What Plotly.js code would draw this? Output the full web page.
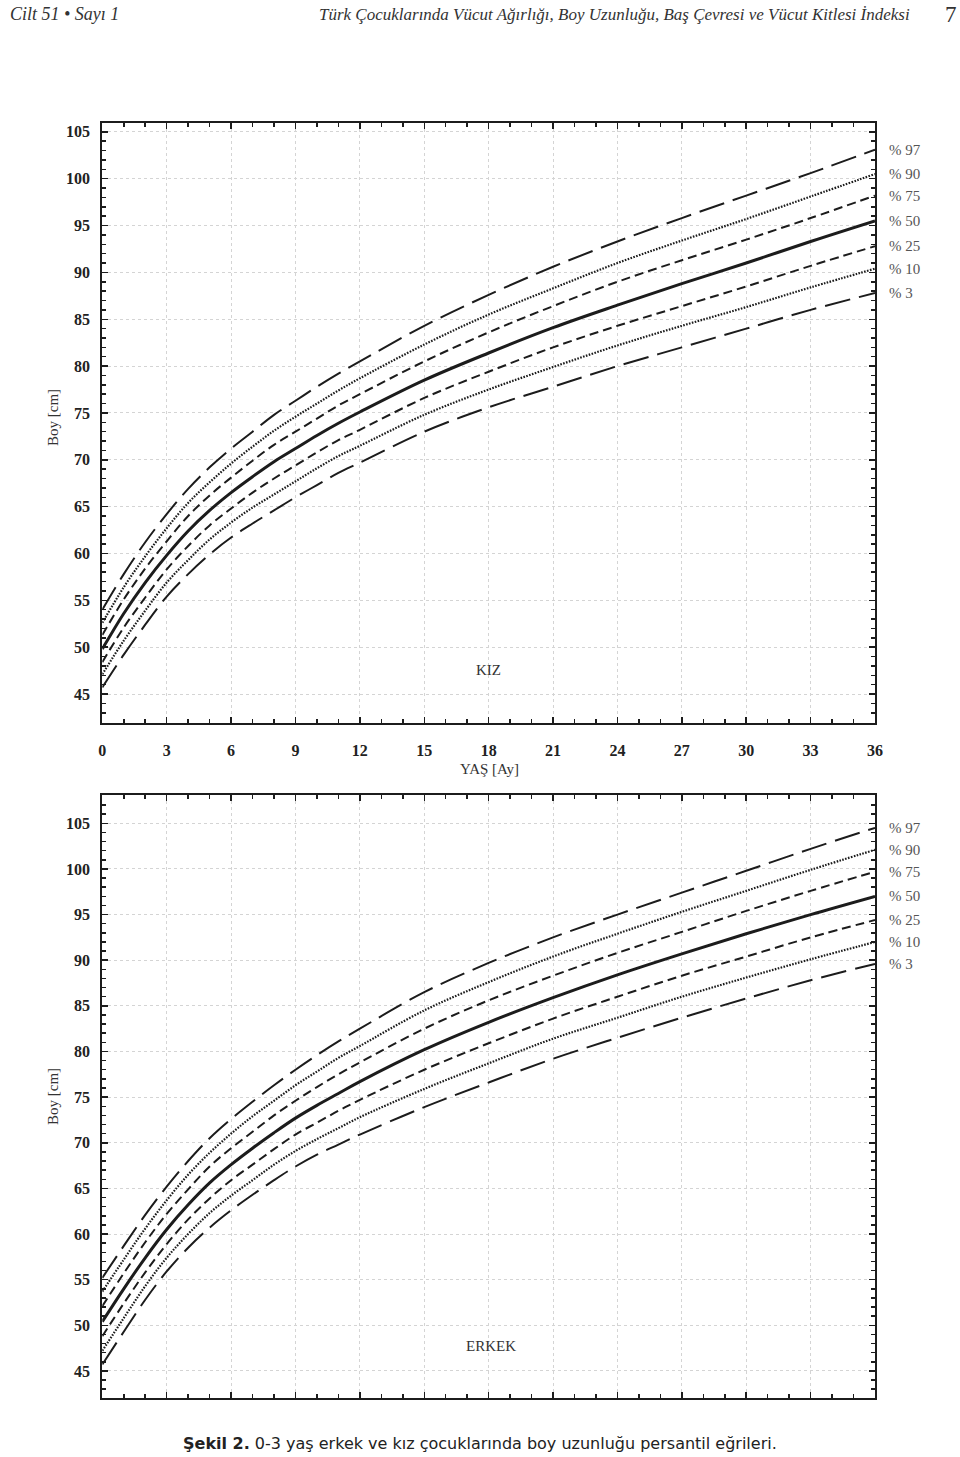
<!DOCTYPE html>
<html><head><meta charset="utf-8">
<script src="https://cdn.plot.ly/plotly-3.0.1.min.js"></script>
<style>body{margin:0;background:#fff}#chart{width:960px;height:1457px}</style>
</head><body><div id="chart"></div>
<script>
const months = [0,1,2,3,4,5,6,7,8,9,10,11,12,15,18,21,24,27,30,33,36];
const percentileLabels = ['% 97','% 90','% 75','% 50','% 25','% 10','% 3'];

// KIZ (girls) length percentiles, cm
const kizP97 = [54.0,57.8,61.2,64.2,66.9,69.2,71.2,73.0,74.8,76.3,77.8,79.2,80.5,84.3,87.6,90.6,93.3,95.8,98.2,100.6,103.1];
const kizP90 = [52.6,56.4,59.7,62.7,65.4,67.6,69.6,71.4,73.1,74.6,76.0,77.4,78.7,82.3,85.5,88.3,91.0,93.4,95.7,98.1,100.5];
const kizP75 = [51.3,55.1,58.4,61.3,64.0,66.2,68.1,69.9,71.6,73.0,74.4,75.8,77.0,80.5,83.6,86.4,89.0,91.3,93.5,95.8,98.2];
const kizP50 = [49.8,53.6,56.9,59.8,62.4,64.6,66.5,68.2,69.8,71.2,72.6,73.9,75.1,78.5,81.4,84.1,86.5,88.8,91.0,93.3,95.5];
const kizP25 = [48.4,52.1,55.3,58.3,60.8,63.0,64.8,66.5,68.0,69.4,70.8,72.1,73.2,76.6,79.4,82.0,84.3,86.4,88.5,90.7,92.8];
const kizP10 = [47.1,50.7,53.9,56.9,59.3,61.5,63.3,64.9,66.3,67.7,69.1,70.4,71.5,74.8,77.5,79.9,82.2,84.3,86.3,88.4,90.4];
const kizP3  = [45.7,49.2,52.4,55.4,57.8,59.9,61.7,63.2,64.6,66.0,67.3,68.6,69.7,73.0,75.6,77.8,80.0,82.0,84.0,86.0,87.8];

// ERKEK (boys) length percentiles, cm
const erkP97 = [55.2,58.7,62.1,65.2,68.0,70.5,72.6,74.5,76.3,78.0,79.6,81.1,82.5,86.5,89.7,92.5,95.0,97.4,99.8,102.2,104.5];
const erkP90 = [53.7,57.2,60.6,63.7,66.5,68.9,71.0,72.9,74.6,76.3,77.8,79.3,80.6,84.5,87.6,90.4,92.9,95.3,97.6,99.9,102.1];
const erkP75 = [52.1,55.7,59.1,62.2,64.9,67.4,69.4,71.2,73.0,74.6,76.1,77.5,78.8,82.5,85.6,88.3,90.8,93.1,95.4,97.6,99.7];
const erkP50 = [50.4,54.0,57.4,60.5,63.2,65.6,67.6,69.4,71.1,72.7,74.1,75.4,76.7,80.2,83.2,85.9,88.4,90.7,92.9,95.0,97.0];
const erkP25 = [48.8,52.4,55.8,58.9,61.6,63.9,65.9,67.6,69.3,70.9,72.2,73.5,74.7,78.0,80.9,83.6,86.0,88.3,90.4,92.5,94.4];
const erkP10 = [47.2,50.8,54.3,57.4,60.0,62.3,64.2,65.9,67.6,69.1,70.4,71.6,72.8,75.9,78.7,81.4,83.7,86.0,88.1,90.1,92.0];
const erkP3  = [45.7,49.3,52.8,55.9,58.5,60.7,62.6,64.3,65.9,67.4,68.7,69.8,70.9,73.9,76.6,79.2,81.5,83.7,85.8,87.8,89.6];

const kizSeries = [kizP97,kizP90,kizP75,kizP50,kizP25,kizP10,kizP3];
const erkSeries = [erkP97,erkP90,erkP75,erkP50,erkP25,erkP10,erkP3];

const ink = '#1c1c1c';
const styles = [
  {dash:'26px,9px', width:2},
  {dash:'1.6px,1.4px', width:2.2},
  {dash:'9px,5px', width:2},
  {dash:'solid', width:3},
  {dash:'9px,5px', width:2},
  {dash:'1.6px,1.4px', width:2.2},
  {dash:'26px,9px', width:2}
];

const H = 1457, W = 960;
const py = px => 1 - px / H;
const pxX = px => px / W;

const traces = [];
const annotations = [];
function addChart(series, xa, ya) {
  series.forEach((vals, i) => {
    traces.push({
      x: months, y: vals, xaxis: xa, yaxis: ya, type: 'scatter', mode: 'lines',
      line: {color: ink, width: styles[i].width, dash: styles[i].dash, shape: 'spline', smoothing: 1},
      hoverinfo: 'skip', showlegend: false
    });
    annotations.push({
      xref: xa, yref: ya, x: 36, y: vals[vals.length - 1], text: percentileLabels[i],
      xanchor: 'left', yanchor: 'middle', xshift: 12, showarrow: false,
      font: {family: 'Liberation Serif', size: 15, color: '#555'}
    });
  });
}
addChart(kizSeries, 'x', 'y');
addChart(erkSeries, 'x2', 'y2');

const tickFont = {family: 'Liberation Serif', size: 16, color: '#222', weight: 'bold'};
function xax(domain, anchor, showLabels) {
  return {
    domain, anchor, range: [0, 36], tickmode: 'linear', tick0: 0, dtick: 3,
    ticks: 'inside', ticklen: 6, tickwidth: 1.5, tickcolor: ink,
    minor: {tickmode: 'linear', tick0: 0, dtick: 1, ticks: 'inside', ticklen: 4, tickcolor: ink, showgrid: false},
    showline: true, linewidth: 2, linecolor: ink, mirror: 'ticks',
    showgrid: true, gridcolor: '#d4d4d4', griddash: 'dot', gridwidth: 1,
    zeroline: false, showticklabels: showLabels, tickfont: tickFont, ticklabelstandoff: 12,
    fixedrange: true
  };
}
function yax(domain, anchor, range) {
  return {
    domain, anchor, range, tickmode: 'linear', tick0: 45, dtick: 5,
    ticks: 'inside', ticklen: 6, tickwidth: 1.5, tickcolor: ink,
    minor: {tickmode: 'linear', tick0: 45, dtick: 1, ticks: 'inside', ticklen: 4, tickcolor: ink, showgrid: false},
    showline: true, linewidth: 2, linecolor: ink, mirror: 'ticks',
    showgrid: true, gridcolor: '#d4d4d4', griddash: 'dot', gridwidth: 1,
    zeroline: false, tickfont: tickFont, ticklabelstandoff: 7, fixedrange: true
  };
}

const xDom = [pxX(102.3), pxX(875)];
annotations.push(
  {xref:'paper', yref:'paper', x: pxX(8), y: py(14), xanchor:'left', yanchor:'middle', showarrow:false,
   text:'<i>Cilt 51 • Sayı 1</i>', font:{family:'Liberation Serif', size:18, color:'#333'}},
  {xref:'paper', yref:'paper', x: pxX(912), y: py(14), xanchor:'right', yanchor:'middle', showarrow:false,
   text:'<i>Türk Çocuklarında Vücut Ağırlığı, Boy Uzunluğu, Baş Çevresi ve Vücut Kitlesi İndeksi</i>', font:{family:'Liberation Serif', size:17, color:'#333'}},
  {xref:'paper', yref:'paper', x: pxX(951), y: py(15), xanchor:'center', yanchor:'middle', showarrow:false,
   text:'7', font:{family:'Liberation Serif', size:23, color:'#333'}},
  {xref:'paper', yref:'paper', x: pxX(489), y: py(769), xanchor:'center', yanchor:'middle', showarrow:false,
   text:'YAŞ [Ay]', font:{family:'Liberation Serif', size:15, color:'#333'}},
  {xref:'paper', yref:'paper', x: pxX(53), y: py(418), xanchor:'center', yanchor:'middle', showarrow:false, textangle:-90,
   text:'Boy [cm]', font:{family:'Liberation Serif', size:15, color:'#333'}},
  {xref:'paper', yref:'paper', x: pxX(53), y: py(1097), xanchor:'center', yanchor:'middle', showarrow:false, textangle:-90,
   text:'Boy [cm]', font:{family:'Liberation Serif', size:15, color:'#333'}},
  {xref:'x', yref:'y', x: 18, y: 47.6, xanchor:'center', yanchor:'middle', showarrow:false,
   text:'KIZ', font:{family:'Liberation Serif', size:15, color:'#333'}},
  {xref:'x2', yref:'y2', x: 18.1, y: 47.7, xanchor:'center', yanchor:'middle', showarrow:false,
   text:'ERKEK', font:{family:'Liberation Serif', size:15, color:'#333'}},
  {xref:'paper', yref:'paper', x: 0.5, y: py(1443), xanchor:'center', yanchor:'middle', showarrow:false,
   text:'<b>Şekil 2.</b> 0-3 yaş erkek ve kız çocuklarında boy uzunluğu persantil eğrileri.', font:{family:'DejaVu Sans', size:16, color:'#222'}}
);

const layout = {
  width: W, height: H, margin: {l:0, r:0, t:0, b:0},
  paper_bgcolor: '#fff', plot_bgcolor: '#fff', showlegend: false,
  xaxis: xax(xDom, 'y', true),
  yaxis: yax([py(722.7), py(122.5)], 'x', [41.94, 106.0]),
  xaxis2: xax(xDom, 'y2', false),
  yaxis2: yax([py(1397.7), py(795)], 'x2', [42.07, 108.1]),
  annotations
};
Plotly.newPlot('chart', traces, layout, {displayModeBar: false, staticPlot: true});
</script></body></html>
